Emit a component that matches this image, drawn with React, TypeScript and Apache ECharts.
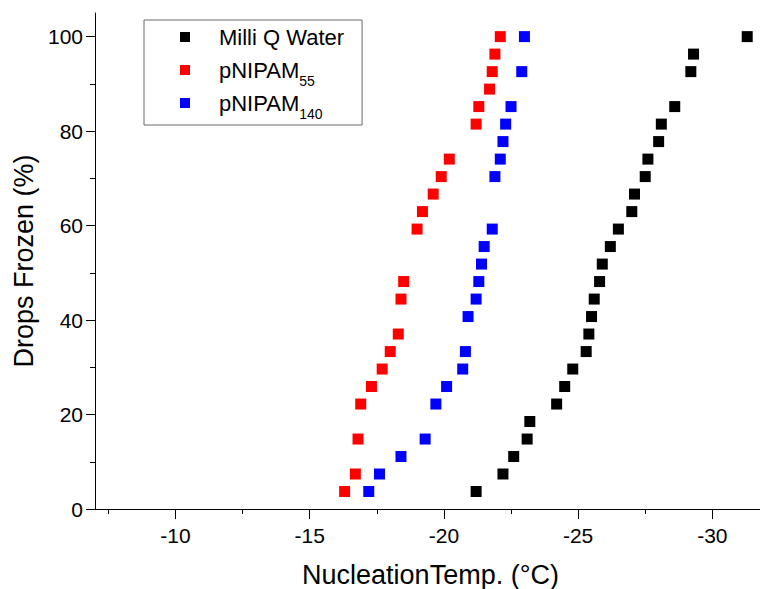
import React, { useEffect, useRef } from 'react';
import * as echarts from 'echarts';

// Drops frozen (%) levels (27 drops per run)
const waterPct = [100, 96.3, 92.59, 85.19, 81.48, 77.78, 74.07, 70.37, 66.67, 62.96, 59.26, 55.56, 51.85, 48.15, 44.44, 40.74, 37.04, 33.33, 29.63, 25.93, 22.22, 18.52, 14.81, 11.11, 7.41, 3.7];
const waterTemp = [-31.3, -29.3, -29.2, -28.6, -28.1, -28.0, -27.6, -27.5, -27.1, -27.0, -26.5, -26.2, -25.9, -25.8, -25.6, -25.5, -25.4, -25.3, -24.8, -24.5, -24.2, -23.2, -23.1, -22.6, -22.2, -21.2];

const p55Pct = [100, 96.3, 92.59, 88.89, 85.19, 81.48, 74.07, 70.37, 66.67, 62.96, 59.26, 48.15, 44.44, 37.04, 33.33, 29.63, 25.93, 22.22, 14.81, 7.41, 3.7];
const p55Temp = [-22.1, -21.9, -21.8, -21.7, -21.3, -21.2, -20.2, -19.9, -19.6, -19.2, -19.0, -18.5, -18.4, -18.3, -18.0, -17.7, -17.3, -16.9, -16.8, -16.7, -16.3];

const p140Pct = [100, 92.59, 85.19, 81.48, 77.78, 74.07, 70.37, 59.26, 55.56, 51.85, 48.15, 44.44, 40.74, 33.33, 29.63, 25.93, 22.22, 14.81, 11.11, 7.41, 3.7];
const p140Temp = [-23.0, -22.9, -22.5, -22.3, -22.2, -22.1, -21.9, -21.8, -21.5, -21.4, -21.3, -21.2, -20.9, -20.8, -20.7, -20.1, -19.7, -19.3, -18.4, -17.6, -17.2];

const xMajorTicks = [-10, -15, -20, -25, -30];
const xMinorTicks = [-7.5, -12.5, -17.5, -22.5, -27.5];
const yMajorTicks = [0, 20, 40, 60, 80, 100];
const yMinorTicks = [10, 30, 50, 70, 90];

const seriesNames = ['Milli Q Water', 'pNIPAM55', 'pNIPAM140'];
const seriesColors = ['#000000', '#ff0000', '#0000ff'];

const FONT = '"Liberation Sans", Arial, sans-serif';

function zip(xs: number[], ys: number[]) {
  return xs.map((x, i) => [x, ys[i]]);
}

export default function App() {
  const ref = useRef<HTMLDivElement>(null);
  useEffect(() => {
    document.body.style.margin = '0';
    if (!ref.current) return;
    const chart = echarts.init(ref.current, undefined, { renderer: 'svg' });
    const datasets = [zip(waterTemp, waterPct), zip(p55Temp, p55Pct), zip(p140Temp, p140Pct)];
    const xBase = { type: 'value', min: -32, max: -7, inverse: true, position: 'bottom', gridIndex: 0 };
    const yBase = { type: 'value', min: 0, max: 105, position: 'left', gridIndex: 0 };
    chart.setOption({
      animation: false,
      backgroundColor: '#ffffff',
      textStyle: { fontFamily: FONT },
      grid: { left: 95, right: -6, top: 13, bottom: 80, containLabel: false, outerBoundsMode: 'none' },
      legend: {
        orient: 'vertical',
        left: 144,
        top: 20,
        data: seriesNames,
        icon: 'rect',
        itemWidth: 10,
        itemHeight: 10,
        itemGap: 4,
        padding: [6, 18, 4, 36],
        borderColor: '#6a6a6a',
        borderWidth: 1,
        formatter: (name: string) => {
          if (name === 'pNIPAM55') return '{m|pNIPAM}{s|55}';
          if (name === 'pNIPAM140') return '{m|pNIPAM}{s|140}';
          return '{m|' + name + '}{s|}';
        },
        textStyle: {
          fontFamily: FONT,
          rich: {
            m: { fontSize: 22, lineHeight: 22, color: '#000', fontFamily: FONT, verticalAlign: 'top', padding: [0, 0, 5, 24] },
            s: { fontSize: 14, lineHeight: 12, color: '#000', fontFamily: FONT, verticalAlign: 'top', padding: [15, 0, 0, 0] },
          },
        },
      },
      xAxis: [
        {
          ...xBase,
          name: 'NucleationTemp. (°C)',
          nameLocation: 'middle',
          nameGap: 52,
          nameTextStyle: { fontSize: 27, color: '#000', fontFamily: FONT },
          splitLine: { show: false },
          axisLine: { show: true, lineStyle: { color: '#000', width: 1 } },
          axisTick: { show: true, length: 10, customValues: xMajorTicks, lineStyle: { color: '#000', width: 1 } },
          axisLabel: { show: true, customValues: xMajorTicks, fontSize: 21, color: '#000', margin: 16, fontFamily: FONT },
        },
        {
          ...xBase,
          splitLine: { show: false },
          axisLine: { show: false },
          axisTick: { show: true, length: 5, customValues: xMinorTicks, lineStyle: { color: '#000', width: 1 } },
          axisLabel: { show: false },
        },
      ],
      yAxis: [
        {
          ...yBase,
          name: 'Drops Frozen (%)',
          nameLocation: 'middle',
          nameGap: 53,
          nameTextStyle: { fontSize: 27, color: '#000', fontFamily: FONT },
          splitLine: { show: false },
          axisLine: { show: true, lineStyle: { color: '#000', width: 1 } },
          axisTick: { show: true, length: 9, customValues: yMajorTicks, lineStyle: { color: '#000', width: 1 } },
          axisLabel: { show: true, customValues: yMajorTicks, fontSize: 21, color: '#000', margin: 12, fontFamily: FONT },
        },
        {
          ...yBase,
          splitLine: { show: false },
          axisLine: { show: false },
          axisTick: { show: true, length: 5, customValues: yMinorTicks, lineStyle: { color: '#000', width: 1 } },
          axisLabel: { show: false },
        },
      ],
      series: seriesNames.map((name, i) => ({
        name,
        type: 'scatter',
        xAxisIndex: 0,
        yAxisIndex: 0,
        symbol: 'rect',
        symbolSize: 11,
        itemStyle: { color: seriesColors[i], opacity: 1 },
        data: datasets[i],
      })),
    });
    return () => chart.dispose();
  }, []);
  return <div ref={ref} style={{ width: 760, height: 589 }} />;
}
